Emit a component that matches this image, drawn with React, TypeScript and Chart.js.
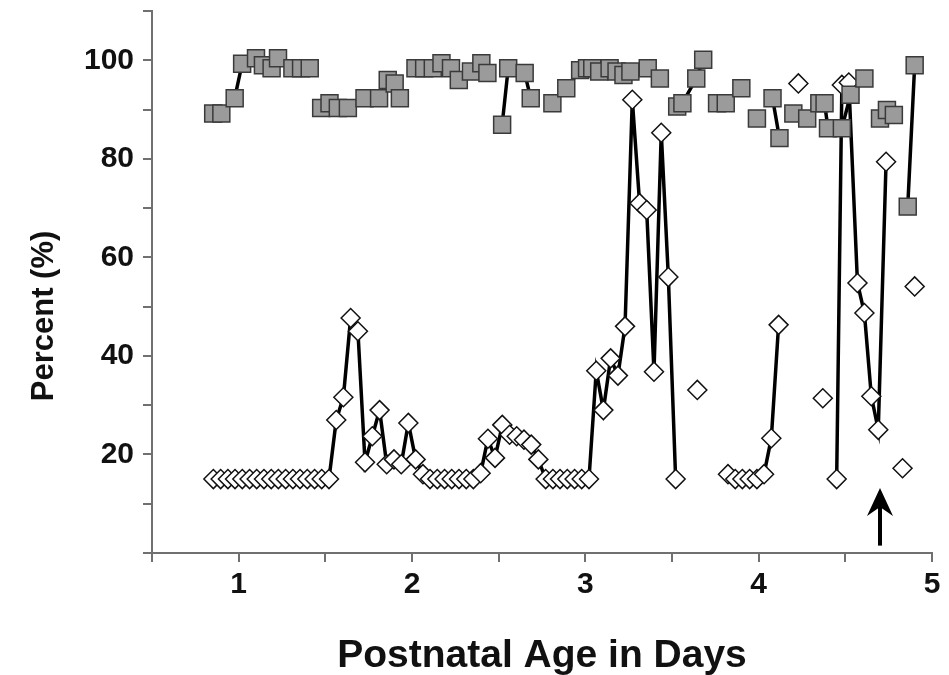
import React, { useEffect, useRef } from 'react';
import { Chart, registerables } from 'chart.js';

Chart.register(...registerables);

// ---- Data (x = postnatal age in days, y = percent). null value = break in the line ----
const squareDays = [
  0.853, 0.9, 0.977, 1.02, 1.1, 1.14, 1.19, 1.227, 1.31, 1.36, 1.41,
  1.44,
  1.476, 1.524, 1.572, 1.63, 1.726, 1.81, 1.86, 1.9, 1.93,
  1.975,
  2.02, 2.07, 2.12, 2.17, 2.225, 2.27, 2.34, 2.4, 2.435,
  2.48,
  2.52, 2.555, 2.65, 2.685,
  2.75,
  2.81, 2.89, 2.97, 3.01, 3.04, 3.08, 3.14, 3.18, 3.22, 3.26, 3.36, 3.43,
  3.48,
  3.53, 3.56, 3.64, 3.68,
  3.72,
  3.76, 3.81,
  3.85,
  3.9,
  3.95,
  3.99,
  4.03,
  4.08, 4.12,
  4.16,
  4.2,
  4.24,
  4.28, 4.35, 4.38, 4.4, 4.48, 4.53, 4.61,
  4.65,
  4.7, 4.74, 4.78,
  4.82,
  4.86, 4.9,
];
const squareValues = [
  89.2, 89.2, 92.3, 99.3, 100.4, 99.0, 98.4, 100.4, 98.4, 98.4, 98.4,
  null,
  90.3, 91.3, 90.3, 90.3, 92.3, 92.3, 96.0, 95.3, 92.3,
  null,
  98.4, 98.4, 98.4, 99.4, 98.4, 96.0, 97.7, 99.4, 97.4,
  null,
  86.9, 98.4, 97.4, 92.3,
  null,
  91.3, 94.3, 98.0, 98.4, 98.4, 97.7, 98.4, 97.7, 97.0, 97.7, 98.4, 96.3,
  null,
  90.6, 91.3, 96.3, 100.1,
  null,
  91.3, 91.3,
  null,
  94.3,
  null,
  88.2,
  null,
  92.3, 84.2,
  null,
  89.2,
  null,
  88.2, 91.3, 91.3, 86.2, 86.2, 93.0, 96.3,
  null,
  88.2, 89.9, 88.9,
  null,
  70.3, 99.0,
];

const diamondDays = [
  0.854, 0.896, 0.938, 0.979, 1.021, 1.063, 1.104, 1.146, 1.188, 1.229, 1.271, 1.313,
  1.354, 1.396, 1.438, 1.479, 1.521, 1.563, 1.604, 1.646, 1.688, 1.729, 1.771, 1.813,
  1.854, 1.896, 1.938, 1.979, 2.021, 2.063, 2.104, 2.146, 2.188, 2.229, 2.271, 2.313,
  2.354, 2.396, 2.438, 2.479, 2.521, 2.563, 2.604, 2.646, 2.688, 2.729, 2.771, 2.813,
  2.854, 2.896, 2.938, 2.979, 3.021, 3.063, 3.104, 3.146, 3.188, 3.229, 3.271, 3.313,
  3.354, 3.396, 3.438, 3.479, 3.521,
  3.58,
  3.646,
  3.73,
  3.823, 3.865, 3.906, 3.948, 3.99, 4.031, 4.073, 4.115,
  4.17,
  4.229,
  4.3,
  4.37,
  4.41,
  4.45, 4.48, 4.52, 4.57, 4.61, 4.65, 4.69, 4.735,
  4.78,
  4.83,
  4.865,
  4.9,
];
const diamondValues = [
  15, 15, 15, 15, 15, 15, 15, 15, 15, 15, 15, 15,
  15, 15, 15, 15, 15, 27, 31.6, 47.7, 45, 18.4, 23.7, 29,
  18, 19, 18, 26.4, 19, 16, 15, 15, 15, 15, 15, 15,
  15, 16.2, 23.2, 19.3, 26, 24, 23.7, 23, 22, 19, 15, 15,
  15, 15, 15, 15, 15, 37, 29, 39.5, 36, 46, 92, 71,
  69.6, 36.8, 85.3, 56, 15,
  null,
  33.1,
  null,
  16, 15, 15, 15, 15, 16, 23.3, 46.3,
  null,
  95.3,
  null,
  31.4,
  null,
  15, 95, 95.5, 54.8, 48.7, 31.8, 25, 79.4,
  null,
  17.2,
  null,
  54.1,
];

const xTickLabels = [1, 2, 3, 4, 5];
const yTickLabels = [20, 40, 60, 80, 100];
const xTitle = 'Postnatal Age in Days';
const yTitle = 'Percent (%)';

// Arrow annotation (in data units)
const arrowDay = 4.7;
const arrowTail = 1.5;
const arrowTip = 13.2;

const FONT = "'Liberation Sans', Arial, Helvetica, sans-serif";

function toPoints(days: number[], values: (number | null)[]) {
  return days.map((d, i) => ({ x: d, y: values[i] }));
}

const arrowPlugin = {
  id: 'arrowAnnotation',
  afterDatasetsDraw(chart: any) {
    const { ctx, scales } = chart;
    const px = scales.x.getPixelForValue(arrowDay);
    const yTail = scales.y.getPixelForValue(arrowTail);
    const yTip = scales.y.getPixelForValue(arrowTip);
    ctx.save();
    ctx.strokeStyle = '#000';
    ctx.lineWidth = 4;
    ctx.beginPath();
    ctx.moveTo(px, yTail);
    ctx.lineTo(px, yTip + 14);
    ctx.stroke();
    ctx.fillStyle = '#000';
    ctx.beginPath();
    ctx.moveTo(px, yTip);
    ctx.lineTo(px - 13, yTip + 28);
    ctx.lineTo(px, yTip + 19);
    ctx.lineTo(px + 13, yTip + 28);
    ctx.closePath();
    ctx.fill();
    ctx.restore();
  },
};

const titlesPlugin = {
  id: 'axisTitles',
  afterDraw(chart: any) {
    const { ctx, chartArea } = chart;
    ctx.save();
    ctx.fillStyle = '#111';
    // x title
    ctx.font = `bold 39px ${FONT}`;
    ctx.textAlign = 'center';
    ctx.textBaseline = 'alphabetic';
    ctx.fillText(xTitle, (chartArea.left + chartArea.right) / 2, 667);
    // y title
    ctx.font = `bold 31px ${FONT}`;
    ctx.translate(44, (chartArea.top + chartArea.bottom) / 2 + 34);
    ctx.rotate(-Math.PI / 2);
    ctx.textBaseline = 'middle';
    ctx.fillText(yTitle, 0, 0);
    ctx.restore();
  },
};

export default function App() {
  const canvasRef = useRef<HTMLCanvasElement | null>(null);

  useEffect(() => {
    const canvas = canvasRef.current;
    if (!canvas) return;
    const axisColor = '#707070';
    const chart = new Chart(canvas, {
      type: 'line',
      data: {
        datasets: [
          {
            label: 'Squares',
            data: toPoints(squareDays, squareValues) as any,
            borderColor: '#000',
            borderWidth: 3.5,
            pointStyle: 'rect',
            pointRadius: 12,
            pointBackgroundColor: '#9b9b9b',
            pointBorderColor: '#3a3a3a',
            pointBorderWidth: 1.5,
            spanGaps: false,
            tension: 0,
          },
          {
            label: 'Diamonds',
            data: toPoints(diamondDays, diamondValues) as any,
            borderColor: '#000',
            borderWidth: 3.5,
            pointStyle: 'rectRot',
            pointRadius: 9.5,
            pointBackgroundColor: '#ffffff',
            pointBorderColor: '#111',
            pointBorderWidth: 1.5,
            spanGaps: false,
            tension: 0,
          },
        ],
      },
      options: {
        animation: false,
        responsive: false,
        devicePixelRatio: 1,
        layout: { autoPadding: false, padding: { left: 0, right: 17, top: 11, bottom: 0 } },
        plugins: {
          legend: { display: false },
          tooltip: { enabled: false },
        },
        scales: {
          x: {
            type: 'linear',
            min: 0.5,
            max: 5,
            afterFit: (axis: any) => {
              axis.height = 122;
              axis.paddingLeft = 0;
              axis.paddingRight = 0;
            },
            ticks: {
              stepSize: 0.5,
              autoSkip: false,
              maxRotation: 0,
              padding: 5,
              color: '#111',
              font: { family: FONT, size: 30, weight: 'bold' },
              callback: (v: any) => (xTickLabels.includes(Number(v)) ? String(v) : ''),
            },
            grid: {
              display: true,
              drawOnChartArea: false,
              drawTicks: true,
              tickLength: 9,
              color: axisColor,
              lineWidth: 2,
            },
            border: { display: true, color: axisColor, width: 2 },
          },
          y: {
            type: 'linear',
            min: 0,
            max: 110,
            afterFit: (axis: any) => {
              axis.width = 152;
              axis.paddingTop = 0;
              axis.paddingBottom = 0;
            },
            ticks: {
              stepSize: 10,
              autoSkip: false,
              padding: 9,
              color: '#111',
              font: { family: FONT, size: 30, weight: 'bold' },
              callback: (v: any) => (yTickLabels.includes(Number(v)) ? String(v) : ''),
            },
            grid: {
              display: true,
              drawOnChartArea: false,
              drawTicks: true,
              tickLength: 9,
              color: axisColor,
              lineWidth: 2,
            },
            border: { display: true, color: axisColor, width: 2 },
          },
        },
      },
      plugins: [arrowPlugin, titlesPlugin],
    });
    return () => chart.destroy();
  }, []);

  return (
    <div style={{ position: 'fixed', left: 0, top: 0, width: 949, height: 675, background: '#fff' }}>
      <canvas ref={canvasRef} width={949} height={675} style={{ width: 949, height: 675, display: 'block' }} />
    </div>
  );
}
